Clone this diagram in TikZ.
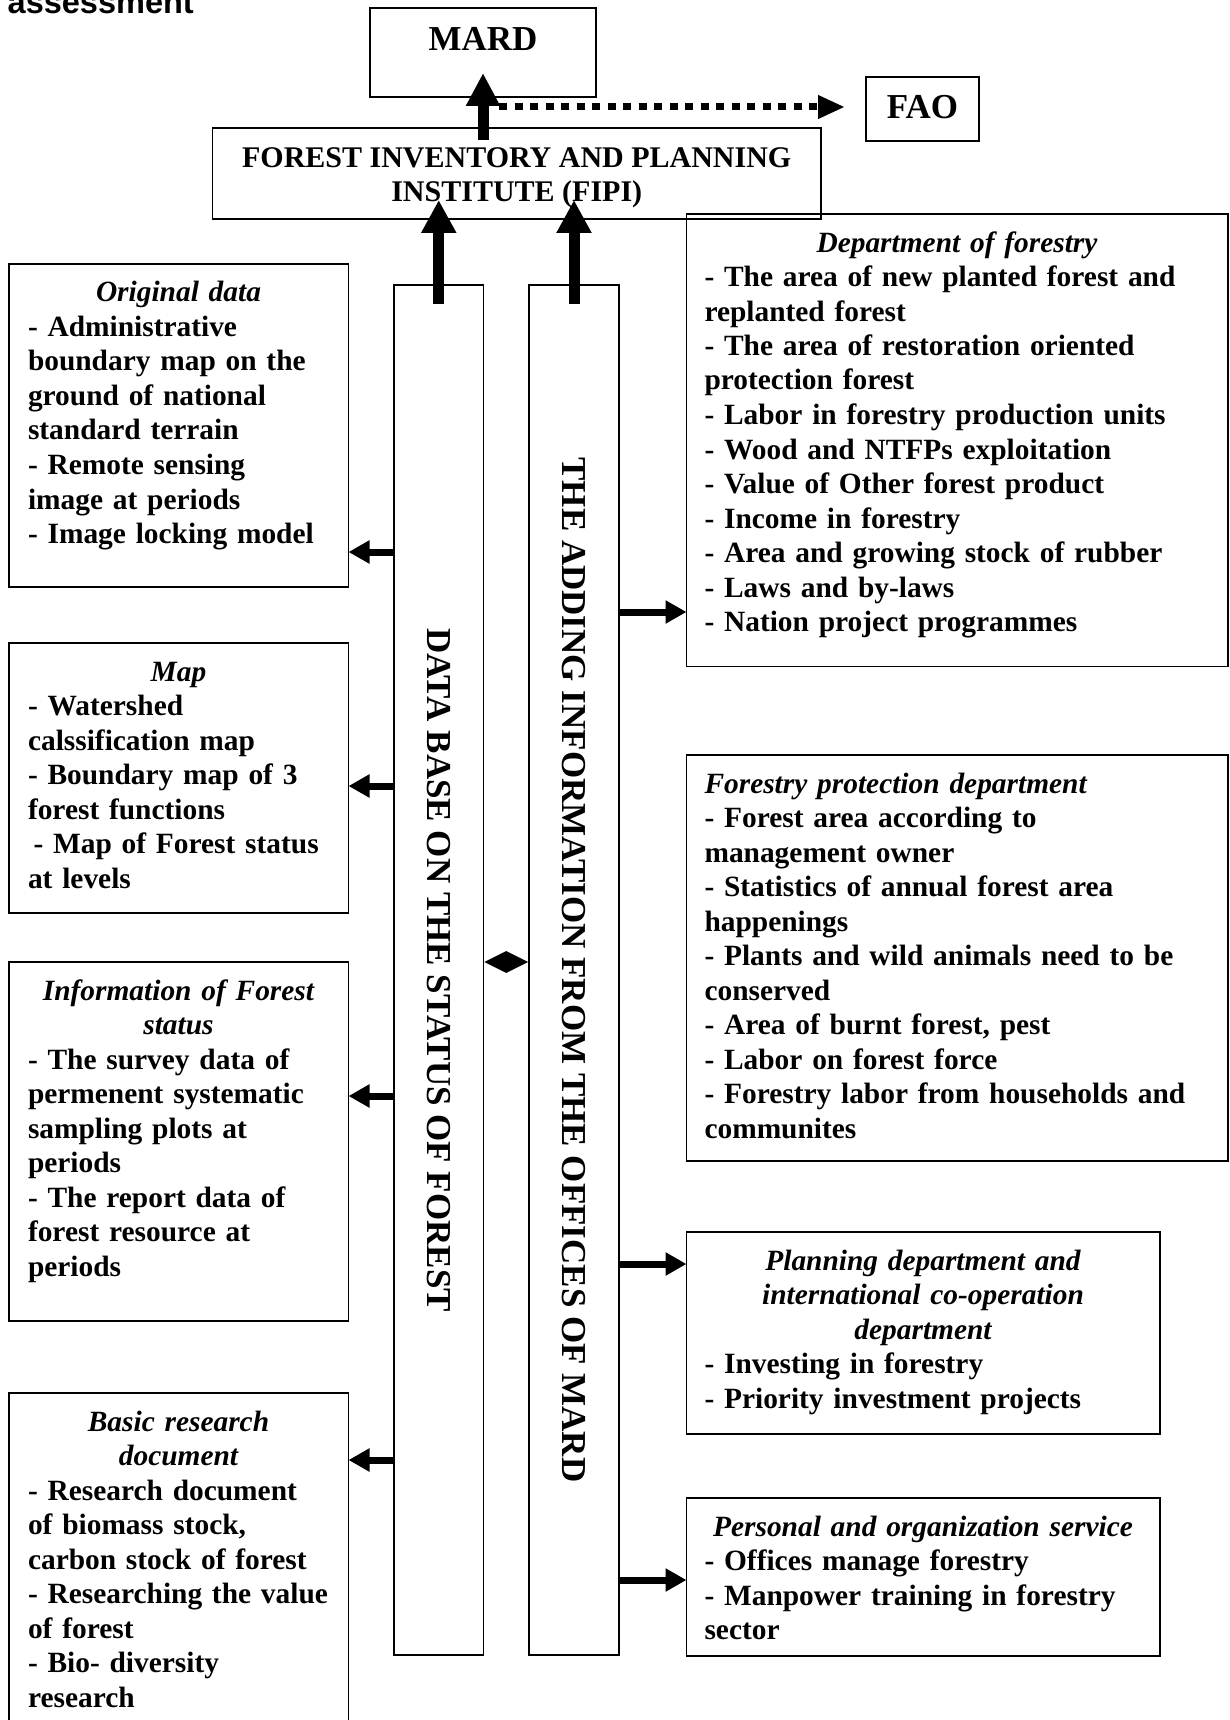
\documentclass[tikz,border=0pt]{standalone}
\usepackage{fontspec}
\setmainfont{Liberation Serif}
\newfontfamily\arialfont{Liberation Sans}
\usetikzlibrary{arrows.meta,shapes.geometric,calc}
\newcommand\ttl[2]{\makebox[#1][c]{\itshape #2}}
\newcommand\mybox[5]{\node[frame, minimum width={#4-#2}, minimum height={#5-#3}] (#1) at (#2,#3) {};}
\tikzset{
  frame/.style={draw, line width=1.6pt, inner sep=0pt, outer sep=0pt, anchor=north west, rectangle},
  txt/.style={anchor=north west, inner sep=0pt, outer sep=0pt, align=left, font=\fontsize{29.4}{34.5}\selectfont\bfseries},
  bigfont/.style={inner sep=0pt, font=\fontsize{35}{40}\selectfont\bfseries},
  sidearrow/.style={line width=7pt, -{Triangle[length=21pt,width=22pt]}},
  uparrow/.style={line width=11pt, -{Triangle[length=33pt,width=33pt]}},
  dotarrow/.style={line width=7pt, dash pattern=on 8pt off 7.5pt, -{Triangle[length=27pt,width=22pt]}},
}
\begin{document}
\begin{tikzpicture}[x=1pt,y=-1pt]
\useasboundingbox (0,0) rectangle (1229,1720);
\clip (0,0) rectangle (1229,1720);

% heading fragment
\node[anchor=base west, inner sep=0pt, font=\fontsize{32.5}{38}\selectfont\arialfont\bfseries] (head) at (7.5,13.5) {assessment};

% top boxes
\mybox{mard}{370}{8}{596}{97}
\node[bigfont, anchor=base] (mardt) at ($(mard.north)+(0,43)$) {MARD};
\mybox{fao}{866}{77}{979}{141}
\node[bigfont, anchor=base] (faot) at ($(fao.north)+(0,42)$) {FAO};
\mybox{fipi}{212.5}{128}{821}{219}
\node[anchor=north, align=center, inner sep=0pt, font=\fontsize{30}{34.5}\selectfont\bfseries] (fipit) at ($(fipi.north)+(0,14.85)$) {\strut FOREST INVENTORY AND PLANNING\\INSTITUTE (FIPI)};

% columns
\mybox{data}{394}{285}{483.5}{1655}
\mybox{add}{529}{285}{619}{1655}
\node[bigfont, rotate=-90] (datat) at (data.center) {DATA BASE ON THE STATUS OF FOREST};
\node[bigfont, rotate=-90] (addt) at (add.center) {THE ADDING INFORMATION FROM THE OFFICES OF MARD};
\node[diamond, fill=black, draw=none, aspect=2, minimum width=44pt, minimum height=22pt, inner sep=0pt] (dia) at ($(data.east)!0.5!(add.west)+(0,-8)$) {};

% left boxes
\mybox{orig}{9}{264}{348.5}{587}
\node[txt, text width=330pt] (origt) at ($(orig.north west)+(19,13.85)$) {\strut\ttl{301pt}{Original data}\\- Administrative\\boundary map on the\\ground of national\\standard terrain\\- Remote sensing\\image at periods\\- Image locking model};

\mybox{map}{9}{643}{348.5}{913}
\node[txt, text width=330pt] (mapt) at ($(map.north west)+(19,13.85)$) {\strut\ttl{301pt}{Map}\\- Watershed\\calssification map\\- Boundary map of 3\\forest functions\\\hspace*{5.5pt}- Map of Forest status\\at levels};

\mybox{info}{9}{962}{348.5}{1321}
\node[txt, text width=330pt] (infot) at ($(info.north west)+(19,13.85)$) {\strut\ttl{301pt}{Information of Forest}\\\ttl{301pt}{status}\\- The survey data of\\permenent systematic\\sampling plots at\\periods\\- The report data of\\forest resource at\\periods};

\mybox{basic}{9}{1393}{348.5}{1760}
\node[txt, text width=330pt] (basict) at ($(basic.north west)+(19,13.85)$) {\strut\ttl{301pt}{Basic research}\\\ttl{301pt}{document}\\- Research document\\of biomass stock,\\carbon stock of forest\\- Researching the value\\of forest\\- Bio- diversity\\research};

% right boxes
\mybox{dept}{686.5}{214}{1228}{666.5}
\node[txt, text width=520pt] (deptt) at ($(dept.north west)+(18,13.85)$) {\strut\ttl{505pt}{Department of forestry}\\- The area of new planted forest and\\replanted forest\\- The area of restoration oriented\\protection forest\\- Labor in forestry production units\\- Wood and NTFPs exploitation\\- Value of Other forest product\\- Income in forestry\\- Area and growing stock of rubber\\- Laws and by-laws\\- Nation project programmes};

\mybox{prot}{686.5}{755}{1228}{1161}
\node[txt, text width=520pt] (prott) at ($(prot.north west)+(18,13.85)$) {\strut{\itshape Forestry protection department}\\- Forest area according to\\management owner\\- Statistics of annual forest area\\happenings\\- Plants and wild animals need to be\\conserved\\- Area of burnt forest, pest\\- Labor on forest force\\- Forestry labor from households and\\communites};

\mybox{plan}{686.5}{1232}{1160}{1434}
\node[txt, text width=452pt] (plant) at ($(plan.north west)+(18,13.85)$) {\strut\ttl{437pt}{Planning department and}\\\ttl{437pt}{international co-operation}\\\ttl{437pt}{department}\\- Investing in forestry\\- Priority investment projects};

\mybox{pers}{686.5}{1498}{1160}{1656}
\node[txt, text width=452pt] (perst) at ($(pers.north west)+(18,13.85)$) {\strut\ttl{437pt}{Personal and organization service}\\- Offices manage forestry\\- Manpower training in forestry\\sector};

% connectors
\draw[uparrow] ($(data.north)+(0,19)$) -- ($(data.north |- fipi.south)+(0,-19)$);
\draw[uparrow] ($(add.north)+(0,19)$) -- ($(add.north |- fipi.south)+(0,-19)$);
\draw[line width=11pt, -{Triangle[length=33pt,width=32pt]}] ($(mard.south |- fipi.north)+(0,12)$) -- ($(mard.south)+(0,-24)$);
\coordinate (ds) at ($(mard.south)+(16,10)$);
\draw[dotarrow] (ds) -- ($(ds -| fao.west)+(-21,0)$);

\coordinate (yA) at (0,552);
\coordinate (yB) at (0,786);
\coordinate (yC) at (0,1096);
\coordinate (yD) at (0,1460);
\draw[sidearrow] (yA -| data.west) -- (yA -| orig.east);
\draw[sidearrow] (yB -| data.west) -- (yB -| map.east);
\draw[sidearrow] (yC -| data.west) -- (yC -| info.east);
\draw[sidearrow] (yD -| data.west) -- (yD -| basic.east);

\coordinate (yE) at (0,612);
\coordinate (yF) at (0,1264);
\coordinate (yG) at (0,1580);
\draw[sidearrow] (yE -| add.east) -- (yE -| dept.west);
\draw[sidearrow] (yF -| add.east) -- (yF -| plan.west);
\draw[sidearrow] (yG -| add.east) -- (yG -| pers.west);
\end{tikzpicture}
\end{document}
